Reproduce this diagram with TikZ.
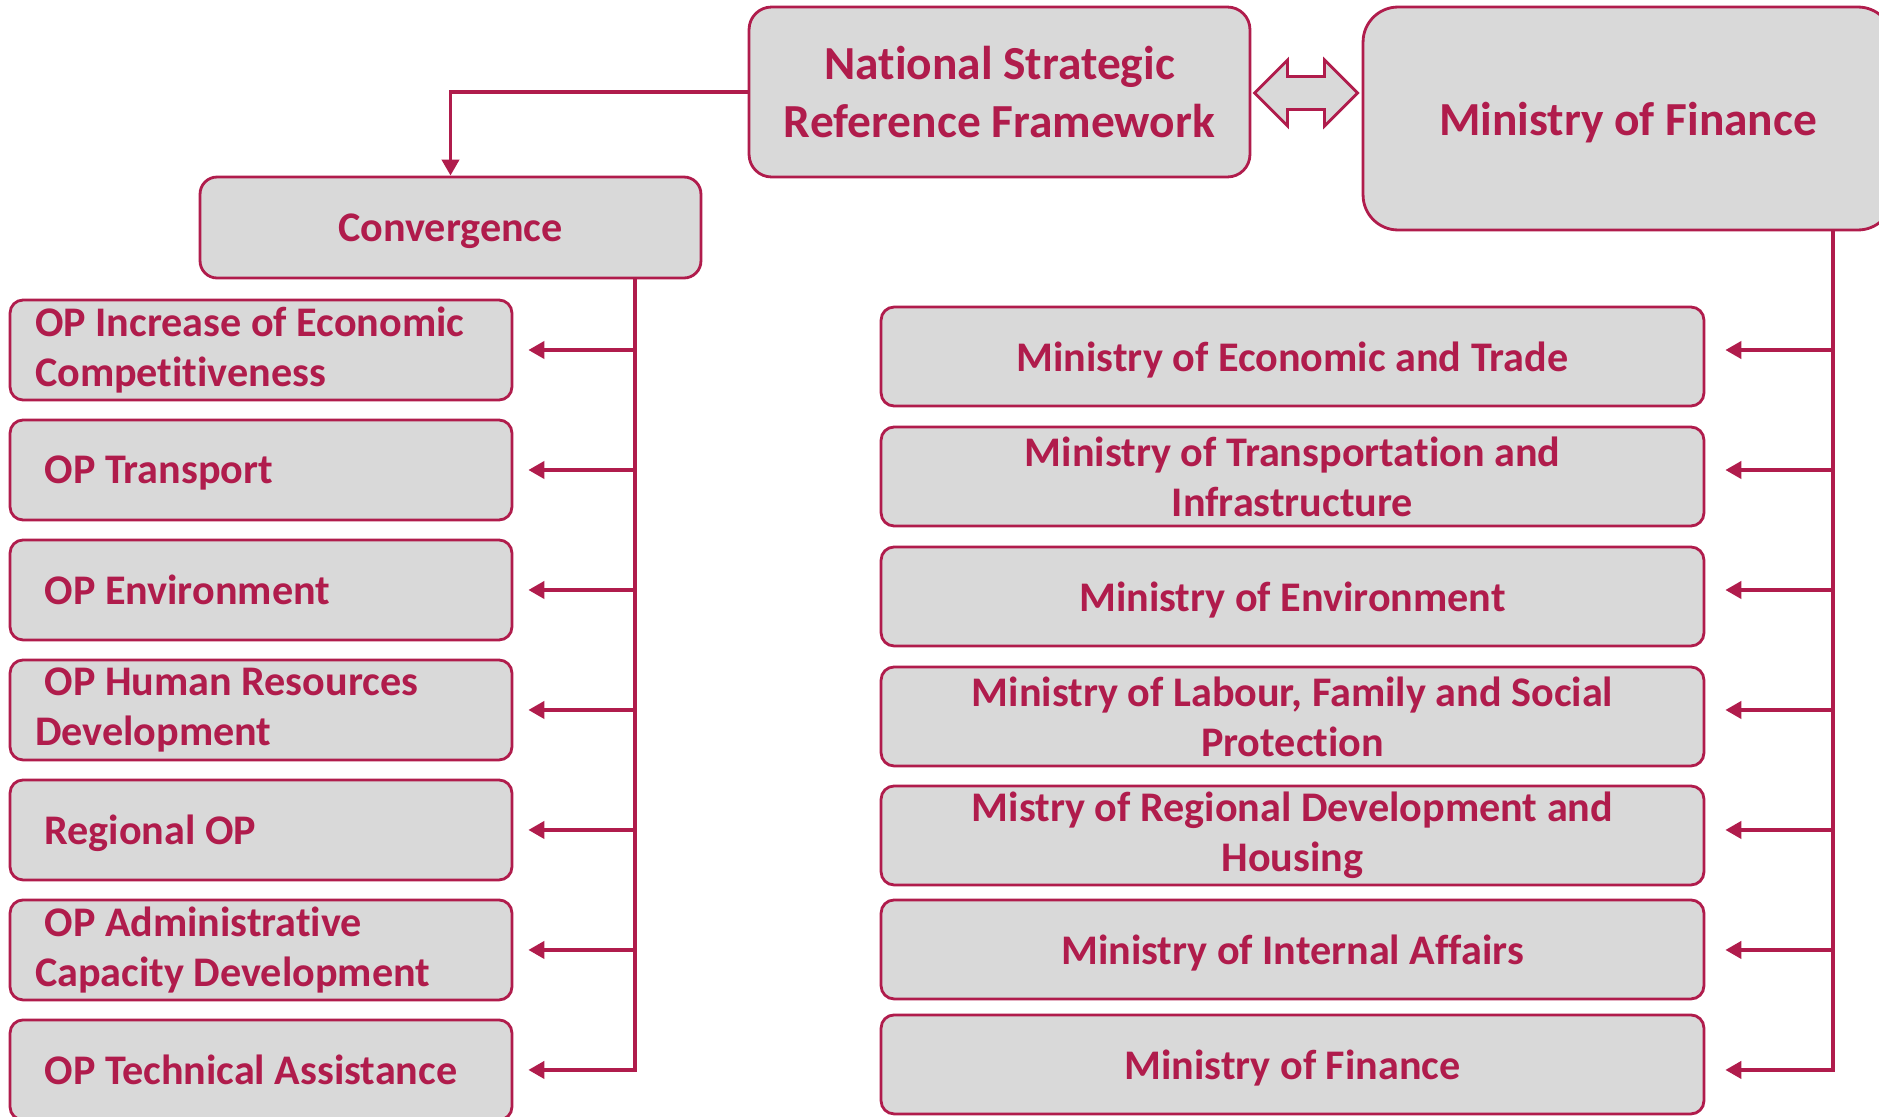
\documentclass[tikz,border=0pt]{standalone}
\usepackage{fontspec}
\setmainfont{Carlito}[Ligatures=NoCommon]
\usetikzlibrary{positioning, arrows.meta}
\definecolor{crim}{RGB}{176,28,76}
\definecolor{boxgray}{RGB}{217,217,217}

\begin{document}
\begin{tikzpicture}[
          x = 0.02cm, y = -0.02cm,
     node distance = 3.44mm and 4mm,
        box/.style = {rectangle, rounded corners=2.6mm, draw=crim, fill=boxgray, line width=1.6pt,
                      text=crim, inner sep=0pt, font=\bfseries\fontsize{24}{28.5}\selectfont},
     topbox/.style = {box, align=center, font=\bfseries\fontsize{27}{32.6}\selectfont},
      opbox/.style = {box, minimum width=10.04cm, minimum height=2cm, text width=9.04cm,
                      align=flush left},
     minbox/.style = {box, minimum width=16.46cm, minimum height=1.98cm, align=center},
     oneline/.style = {text depth=0pt},
       line/.style = {draw=crim, line width=2.2pt},
        arr/.style = {line, -{Triangle[length=3.2mm, width=3.4mm]}},
    dblarrow/.style = {draw=crim, fill=boxgray, line width=1.6pt, line join=miter}
                    ]
\useasboundingbox[fill=white] (0,0) rectangle (1879,1116);
% top row
\node (nsrf) [topbox, minimum width=10.02cm, minimum height=3.4cm, rounded corners=4.5mm] at (999.5,92) {National Strategic\\Reference Framework};
\node (mof)  [topbox, oneline, minimum width=10.6cm, minimum height=4.46cm, rounded corners=7mm] at (1628,118.5) {Ministry of Finance};
\node (conv) [box, oneline, minimum width=10.02cm, minimum height=2.02cm, rounded corners=3.4mm] at (450.5,227.5) {Convergence};
\coordinate (dbl) at (1306,93);
\coordinate (ltrunk) at (635,0);
\coordinate (rtrunk) at (1833,0);
% operational programmes
\node (op1) [opbox] at (261,350) {OP Increase of Economic\\Competitiveness};
\node (op2) [opbox, oneline, below=of op1] {\hspace*{1.9mm}OP Transport};
\node (op3) [opbox, oneline, below=of op2] {\hspace*{1.9mm}OP Environment};
\node (op4) [opbox, below=of op3] {\hspace*{1.9mm}OP Human Resources\\Development};
\node (op5) [opbox, oneline, below=of op4] {\hspace*{1.9mm}Regional OP};
\node (op6) [opbox, below=of op5] {\hspace*{1.9mm}OP Administrative\\Capacity Development};
\node (op7) [opbox, oneline, below=of op6] {\hspace*{1.9mm}OP Technical Assistance};
% ministries
\node (min1) [minbox, oneline] at (1292.5,356.5) {Ministry of Economic and Trade};
\node (min2) [minbox, below=0.364cm of min1] {Ministry of Transportation and\\Infrastructure};
\node (min3) [minbox, oneline, below=0.364cm of min2] {Ministry of Environment};
\node (min4) [minbox, below=0.364cm of min3] {Ministry of Labour, Family and Social\\Protection};
\node (min5) [minbox, below=0.344cm of min4] {Mistry of Regional Development and\\Housing};
\node (min6) [minbox, oneline, below=0.244cm of min5] {Ministry of Internal Affairs};
\node (min7) [minbox, oneline, below=0.264cm of min6] {Ministry of Finance};
% connectors
\draw[dblarrow, shift={(dbl)}] (-51.5,0) -- (-18.5,-33) -- (-18.5,-16.5) -- (18.5,-16.5) -- (18.5,-33)
      -- (51.5,0) -- (18.5,33) -- (18.5,16.5) -- (-18.5,16.5) -- (-18.5,33) -- cycle;
\draw[arr] (nsrf.west) -| (conv.north);
\draw[arr, shorten >=3mm] (conv.south -| ltrunk) |- (op7.east);
\foreach \n in {1,...,6}
    \draw[arr, shorten >=3mm] (op\n.east -| ltrunk) -- (op\n.east);
\draw[arr, shorten >=4mm] (mof.south -| rtrunk) |- (op7.east -| min7.east);
\foreach \n in {1,...,6}
    \draw[arr, shorten >=4mm] (op\n.east -| rtrunk) -- (op\n.east -| min\n.east);
\end{tikzpicture}
\end{document}
